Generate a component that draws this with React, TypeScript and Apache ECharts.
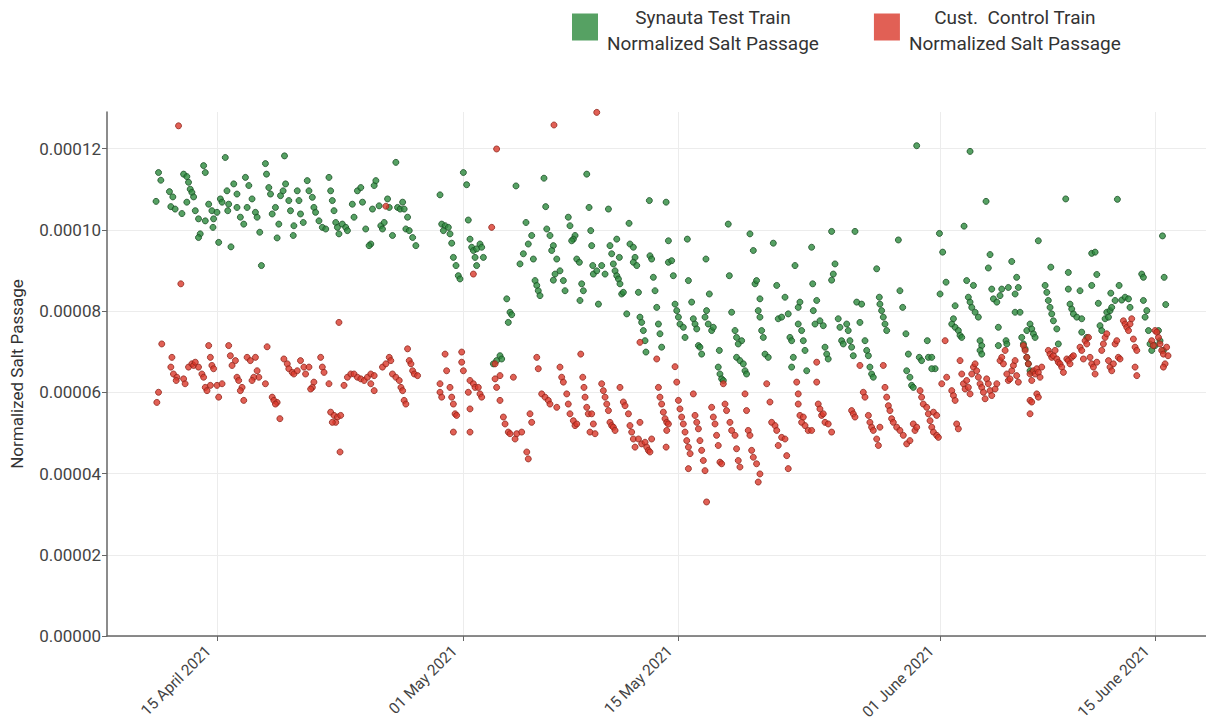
import React, { useEffect, useRef } from "react";
import * as echarts from "echarts";

// Each point: [day of April 2021 (decimal; 31 = 1 May, 62 = 1 June), salt passage x 1e-5]
const testPoints: [number, number][] = [
  [11.2,11.41],[11.35,11.22],[11.04,10.7],[11.91,10.94],[12.13,10.81],[12.0,10.57],[12.28,10.51],[12.72,10.4],[12.83,11.37],[13.04,11.31],
  [13.15,11.17],[13.26,11.0],[13.37,10.92],[13.48,10.81],[13.04,10.68],[14.13,11.58],[14.24,11.41],[13.59,10.47],[13.8,10.27],[14.24,10.22],
  [13.91,9.9],[13.8,9.81],[14.46,10.63],[14.67,10.47],[15.0,10.43],[14.78,10.27],[14.74,10.06],[15.11,9.69],[15.22,10.76],[15.33,10.68],
  [15.65,10.96],[15.76,10.63],[15.7,10.47],[15.91,9.58],[15.54,11.78],[16.09,11.13],[16.3,10.88],[16.3,10.55],[16.52,10.31],[16.74,10.14],
  [16.85,11.29],[17.07,11.09],[17.28,10.76],[16.96,10.55],[17.5,10.43],[17.61,10.31],[17.89,9.12],[17.78,9.94],[18.15,11.63],[18.22,11.37],
  [18.37,11.04],[18.48,10.88],[18.8,10.55],[18.59,10.39],[19.02,10.14],[18.91,9.8],[19.13,10.84],[19.3,10.96],[19.46,11.13],[19.67,10.72],
  [19.78,10.47],[20.0,10.1],[19.96,9.86],[19.39,11.82],[20.22,10.96],[20.33,10.72],[20.43,10.39],[20.61,10.18],[20.87,11.21],[20.98,10.96],
  [21.2,10.8],[21.3,10.55],[21.41,10.43],[21.63,10.22],[21.85,10.06],[22.07,10.02],[22.28,11.29],[22.39,10.96],[22.5,10.72],[22.61,10.47],
  [22.72,10.18],[22.83,10.06],[22.93,9.9],[23.15,10.14],[23.37,10.06],[23.48,9.98],[23.91,10.31],[23.8,10.63],[24.13,10.96],[24.35,11.04],
  [24.46,10.68],[24.67,10.02],[25.0,9.65],[24.89,9.61],[25.22,11.09],[25.33,11.21],[25.11,10.51],[25.54,10.59],[25.65,10.1],[25.76,10.02],
  [25.87,10.18],[26.09,10.76],[26.2,10.55],[26.41,9.86],[26.63,11.66],[26.74,10.55],[26.91,10.51],[27.07,10.68],[27.17,10.51],[27.39,10.31],
  [27.28,10.02],[27.5,9.98],[27.72,9.81],[27.93,9.61],
  [29.5,10.86],[31.02,11.41],[31.23,11.11],[31.34,10.24],[29.61,10.14],[29.83,10.1],[30.04,10.06],[29.72,9.98],[30.15,9.9],[30.26,9.67],
  [30.37,9.32],[30.54,9.12],[30.69,8.87],[30.8,8.79],[31.45,9.77],[31.56,9.57],[31.67,9.49],[31.88,9.53],[32.1,9.65],[32.21,9.57],
  [32.32,9.32],[31.78,9.32],[31.88,9.12],[33.84,8.3],[34.05,7.97],[34.16,7.91],[33.94,7.72],[33.4,6.9],[33.51,6.82],[33.18,6.78],
  [32.97,6.7],[34.44,11.08],[35.09,10.18],[35.46,9.86],[35.24,9.65],[34.92,9.41],[35.57,9.28],[34.7,9.16],[35.68,8.75],[35.79,8.63],
  [35.89,8.5],[36.0,8.38],[36.26,11.27],[36.37,10.57],[36.44,10.02],[36.65,9.86],[36.87,9.61],[36.76,9.49],[37.09,9.28],[36.98,8.91],
  [36.87,8.76],[37.3,8.99],[37.52,8.75],[37.63,8.5],[37.84,10.31],[37.95,10.1],[38.28,9.86],[38.17,9.77],[38.06,9.73],[38.39,9.28],
  [38.56,9.2],[38.71,8.67],[38.82,8.5],[38.6,8.26],[39.04,11.37],[39.19,10.55],[39.3,9.98],[39.36,9.61],[39.43,9.12],[39.47,8.91],
  [39.69,8.99],[40.01,9.12],[40.23,8.91],[39.8,8.17],[40.45,10.51],[40.55,9.61],[40.66,9.41],[40.77,9.16],[40.88,8.99],[40.99,8.87],
  [41.1,8.79],[41.2,8.67],[41.31,8.42],[41.42,8.46],[40.99,9.77],[41.16,9.32],[41.64,7.93],[41.79,10.16],[41.85,9.65],[42.07,9.57],
  [42.18,9.32],[42.07,9.2],[42.29,9.12],[42.4,8.46],[43.11,10.72],[44.2,10.68],[43.15,9.36],[43.26,9.28],[43.37,8.83],[43.48,8.5],
  [43.59,8.09],[43.7,7.68],[43.8,7.44],[43.91,7.11],[42.5,7.85],[42.61,7.72],[42.72,7.52],[42.83,7.27],[42.89,6.99],[44.35,9.73],
  [44.35,9.2],[44.56,9.24],[44.67,8.87],[44.78,8.17],[44.89,8.01],[45.0,7.85],[45.1,7.68],[45.32,7.6],[45.43,7.35],[45.58,9.77],
  [45.65,8.75],[45.86,8.22],[45.97,7.81],[46.08,7.68],[46.19,7.56],[46.3,7.15],
  [48.24,10.14],[49.65,9.9],[49.87,9.49],[51.17,9.67],[54.96,9.96],[56.48,9.96],[59.3,9.75],[60.49,12.07],[46.79,9.28],[48.31,8.87],
  [52.58,9.12],[53.66,9.57],[55.18,9.16],[55.07,8.91],[54.96,8.76],[57.89,9.04],[47.01,8.42],[46.83,8.01],[46.73,7.85],[46.94,7.68],
  [47.16,7.52],[47.27,7.6],[46.4,7.11],[46.51,6.94],[47.66,7.03],[47.59,6.62],[47.7,6.45],[47.81,6.33],[47.92,6.29],[48.46,7.97],
  [48.68,7.52],[48.78,7.35],[49.11,7.27],[48.89,7.19],[48.78,6.86],[49.0,6.78],[49.22,6.7],[49.33,6.53],[49.43,6.45],[49.98,8.67],
  [50.08,8.75],[50.3,8.3],[50.19,8.01],[50.3,7.85],[50.41,7.52],[50.52,7.35],[50.63,6.94],[50.84,6.86],[51.39,8.63],[51.49,7.81],
  [51.71,7.85],[51.93,8.34],[52.14,7.93],[52.25,7.35],[52.36,7.27],[52.47,6.86],[52.36,6.62],[52.79,8.09],[52.9,8.22],[52.79,7.68],
  [53.01,7.52],[53.12,7.27],[53.23,7.03],[53.34,6.53],[53.73,8.67],[53.77,8.01],[53.88,7.68],[53.99,8.26],[54.2,7.76],[54.42,7.64],
  [54.53,7.11],[54.64,6.94],[54.74,6.82],[55.39,7.81],[55.5,7.6],[55.61,7.27],[55.72,7.19],[55.94,7.68],[56.04,7.52],[56.15,7.27],
  [56.26,7.11],[56.37,6.9],[56.59,8.22],[56.91,8.17],[56.8,7.72],[57.13,7.27],[57.24,7.03],[57.35,6.9],[57.45,6.62],[57.56,6.45],
  [57.67,6.37],[58.06,8.34],[58.1,8.17],[58.21,8.01],[58.32,7.85],[58.43,7.68],[58.54,7.52],[59.4,8.5],[59.58,8.09],[59.79,7.44],
  [59.95,6.94],[59.84,6.53],[60.05,6.37],[60.16,6.17],[60.27,6.12],[60.66,6.86],[60.81,6.78],[61.18,7.27],[61.25,6.86],
  [63.96,11.93],[65.0,10.7],[70.18,10.76],[73.54,10.75],[63.57,10.09],[61.97,9.91],[62.18,9.45],[68.4,9.73],[76.47,9.85],[65.26,9.39],
  [65.15,9.06],[66.67,9.22],[66.99,8.83],[67.1,8.58],[66.89,8.42],[66.45,8.58],[66.89,7.97],[67.21,7.97],[69.21,9.08],[70.35,8.95],
  [71.87,9.42],[72.09,9.45],[72.2,8.9],[71.87,8.63],[73.11,8.44],[73.65,8.63],[75.12,8.91],[75.23,8.83],[76.58,8.83],[76.68,8.16],
  [62.4,8.71],[62.01,8.42],[63.74,8.75],[64.18,8.63],[63.85,8.34],[63.96,8.22],[64.07,8.09],[64.29,7.97],[64.5,7.85],[62.99,8.13],
  [62.88,7.81],[62.77,7.68],[62.99,7.6],[63.2,7.52],[63.31,7.4],[63.42,7.35],[65.37,8.54],[65.48,8.3],[65.7,8.22],[65.91,8.38],
  [66.02,8.54],[65.8,7.6],[65.8,7.15],[66.3,7.27],[66.35,7.19],[64.61,7.27],[64.72,7.15],[64.61,7.03],[64.72,6.94],[67.65,7.52],
  [67.86,7.68],[67.97,7.56],[68.08,7.44],[68.19,7.35],[67.32,7.35],[67.43,7.19],[67.54,7.07],[67.65,6.86],[67.75,6.7],[67.86,6.53],
  [67.97,6.49],[68.84,8.63],[68.95,8.46],[69.05,8.26],[69.16,8.09],[69.27,7.93],[69.38,7.76],[69.6,7.56],[69.7,7.19],[70.35,8.54],
  [70.46,8.17],[70.57,8.05],[70.68,7.93],[70.9,7.85],[71.11,8.5],[71.22,7.81],[71.22,7.48],[71.55,7.35],[72.3,8.19],[72.41,7.64],
  [72.52,7.52],[72.74,7.81],[72.85,7.97],[72.96,7.85],[73.06,8.01],[73.17,8.09],[73.39,8.26],[73.82,8.27],[74.04,8.34],[74.26,8.3],
  [74.36,8.09],[75.23,8.26],[75.45,8.01],[75.56,7.52],[75.34,7.85],[75.66,7.19],[75.77,7.03],[75.99,7.15],[76.21,7.52],[76.31,7.27],
  [76.53,7.03],[61.47,6.86],[61.69,6.58],[61.47,6.58],
];

const controlPoints: [number, number][] = [
  [12.5,12.56],[12.65,8.67],[22.93,7.72],[11.41,7.19],[11.2,6.0],[11.09,5.75],[12.07,6.86],[12.0,6.62],[12.17,6.45],[12.39,6.37],
  [12.35,6.29],[12.83,6.33],[12.93,6.21],[13.15,6.62],[13.37,6.7],[13.48,6.66],[13.59,6.74],[13.8,6.62],[14.02,6.45],[14.13,6.37],
  [14.24,6.12],[14.35,6.04],[14.57,6.17],[14.46,7.15],[14.57,6.86],[14.67,6.66],[14.78,6.58],[15.0,6.17],[15.33,6.21],[15.11,5.88],
  [15.76,7.15],[15.87,6.9],[15.98,6.66],[16.2,6.78],[16.3,6.37],[16.41,6.29],[16.63,6.12],[16.52,6.04],[16.74,5.8],[16.96,6.86],
  [17.17,6.78],[17.5,6.86],[17.61,6.53],[17.72,6.37],[17.39,6.37],[17.28,6.29],[18.26,7.12],[18.15,6.21],[18.59,5.88],[18.7,5.8],
  [18.91,5.75],[18.8,5.71],[19.09,5.35],[19.35,6.82],[19.57,6.7],[19.67,6.58],[19.89,6.49],[20.0,6.45],[20.22,6.53],[20.43,6.78],
  [20.65,6.62],[20.76,6.45],[20.98,6.62],[21.3,6.25],[21.2,6.12],[21.09,6.08],[21.74,6.86],[21.85,6.62],[21.96,6.49],[22.28,6.21],
  [22.39,5.51],[22.61,5.43],[22.83,5.39],[23.04,5.43],[22.72,5.26],[22.5,5.26],[23.0,4.53],[23.26,6.17],[23.48,6.37],[23.7,6.45],
  [23.91,6.45],[24.13,6.37],[24.35,6.33],[24.57,6.29],[24.78,6.37],[25.0,6.21],[25.22,6.04],[25.0,6.45],[25.22,6.41],[25.76,6.62],
  [25.98,6.7],[26.2,6.86],[26.3,6.78],[26.41,6.45],[26.63,6.37],[26.85,6.29],[26.96,6.12],[27.07,6.04],[27.17,5.8],[27.28,5.71],
  [27.39,7.07],[27.5,6.78],[27.61,6.7],[27.72,6.53],[27.83,6.45],[28.04,6.41],[25.98,10.58],
  [33.18,11.99],[36.91,12.58],[39.69,12.89],[32.86,10.06],[31.67,8.91],[29.83,6.94],[30.91,6.99],[29.93,6.53],[30.91,6.74],[31.02,6.53],
  [29.5,6.21],[29.5,6.0],[29.61,5.88],[30.15,6.12],[30.26,5.88],[30.37,5.71],[30.48,5.47],[30.58,5.43],[30.37,5.02],[31.45,5.02],
  [31.45,5.59],[31.45,6.29],[31.67,6.21],[31.78,6.12],[31.99,6.12],[32.1,5.96],[32.21,5.88],[31.34,6.0],[33.08,6.7],[33.4,6.41],
  [33.08,6.33],[33.18,6.12],[33.4,5.8],[33.62,5.39],[33.73,5.22],[33.94,5.02],[34.05,4.98],[34.38,4.85],[34.49,4.98],[34.81,5.02],
  [35.35,5.47],[35.46,5.26],[35.14,4.53],[35.24,4.36],[34.27,6.37],[35.79,6.86],[35.89,6.58],[36.11,5.96],[36.33,5.88],[36.54,5.8],
  [36.65,5.71],[37.09,5.63],[37.3,6.62],[37.41,6.37],[37.52,6.25],[37.74,5.96],[37.84,5.71],[37.95,5.47],[38.17,5.3],[38.28,5.18],
  [38.39,5.22],[38.65,6.94],[38.78,6.37],[38.86,6.12],[38.93,5.88],[39.04,5.63],[39.14,5.47],[39.36,5.47],[39.47,5.22],[39.25,5.02],
  [39.58,4.98],[40.01,6.21],[40.12,6.04],[40.23,5.88],[40.34,5.71],[40.45,5.55],[40.55,5.26],[40.66,5.18],[40.77,5.14],[40.88,5.06],
  [41.2,6.12],[41.42,5.76],[41.53,5.67],[41.75,5.47],[41.85,5.18],[41.96,5.02],[42.07,4.85],[42.18,4.65],[42.4,4.85],[42.61,4.73],
  [42.83,4.77],[42.94,4.65],[43.05,4.57],[43.15,4.53],[43.26,4.85],[42.5,5.26],[42.5,7.23],[43.59,6.82],[43.7,6.12],[43.8,5.88],
  [43.91,5.71],[44.02,5.51],[44.13,5.35],[44.24,5.26],[44.35,5.22],[44.24,5.06],[44.2,4.65],[44.78,6.63],[44.89,6.25],[45.0,5.8],
  [45.1,5.59],[45.21,5.39],[45.32,5.22],[45.43,5.02],[45.54,4.81],[45.65,4.65],[45.76,4.49],[45.65,4.12],[45.97,5.96],[46.08,5.43],
  [46.19,5.26],[46.3,5.1],
  [47.92,6.21],[46.4,4.81],[46.51,4.57],[46.62,4.32],[46.73,4.07],[46.83,3.3],[47.16,5.63],[47.27,5.39],[47.38,5.22],[47.48,4.94],
  [47.59,4.69],[47.7,4.28],[47.81,4.24],[48.03,5.71],[48.13,5.55],[48.35,5.26],[48.46,5.06],[48.68,4.94],[48.78,4.61],[48.89,4.32],
  [49.0,4.16],[49.33,5.96],[49.43,5.55],[49.54,5.06],[49.65,4.94],[49.76,4.57],[49.87,4.4],[50.08,4.24],[50.3,3.99],[50.19,3.79],
  [50.74,6.21],[50.95,5.76],[51.06,5.26],[51.28,5.18],[51.39,5.06],[51.49,4.69],[51.71,4.89],[51.93,4.85],[52.04,4.44],[52.14,4.12],
  [52.69,6.25],[52.79,5.96],[52.79,5.71],[52.9,5.43],[53.01,5.26],[53.12,5.39],[53.23,5.18],[53.44,5.06],[53.66,5.06],[53.99,6.74],
  [53.99,6.25],[54.09,5.71],[54.2,5.59],[54.31,5.43],[54.42,5.47],[54.53,5.26],[54.74,5.22],[54.96,5.02],[56.26,5.55],[56.37,5.47],
  [56.48,5.39],[56.8,6.66],[57.02,6.0],[57.13,5.88],[57.35,5.43],[57.45,5.26],[57.56,5.14],[57.67,5.06],[57.89,4.85],[58.0,4.69],
  [58.1,5.14],[58.32,6.66],[58.43,6.12],[58.54,5.88],[58.65,5.67],[58.75,5.55],[58.86,5.35],[58.97,5.26],[59.19,5.14],[59.4,5.06],
  [59.62,4.94],[59.84,4.73],[60.05,4.81],[60.27,5.22],[60.38,5.06],[60.49,5.14],[60.71,6.04],[60.81,5.88],[60.92,5.71],[61.14,5.63],
  [61.25,5.47],
  [61.36,5.3],[61.47,5.14],[61.58,5.02],[61.79,4.94],[61.9,4.89],[61.58,5.51],[61.79,5.43],[62.12,6.21],[62.34,7.27],[62.44,6.37],
  [62.77,6.04],[62.88,5.92],[62.99,5.8],[63.09,5.22],[63.2,5.1],[63.31,6.78],[63.42,6.45],[63.53,6.21],[63.64,6.08],[63.74,6.29],
  [63.85,6.12],[63.96,5.96],[64.07,6.45],[64.18,6.62],[64.29,6.7],[64.39,6.53],[64.5,6.37],[64.61,6.21],[64.72,6.12],[64.83,6.0],
  [64.94,5.84],[65.04,6.33],[65.15,6.21],[65.26,6.04],[65.37,5.92],[65.59,6.08],[65.7,6.21],[65.91,6.78],[66.02,6.86],[66.13,6.7],
  [66.24,7.03],[66.35,6.45],[66.45,6.29],[66.56,6.33],[66.67,6.53],[66.78,6.66],[66.89,6.78],[66.99,6.41],[67.1,6.25],[67.43,7.15],
  [67.54,7.03],[67.65,6.86],[67.75,6.7],[67.86,6.45],[67.97,6.29],[68.08,6.53],[68.19,6.45],[68.3,6.58],[68.4,6.49],[68.51,6.37],
  [68.62,6.62],[67.86,5.8],[67.97,5.76],[67.86,5.47],[68.3,5.96],[68.4,5.88],[69.05,7.03],[69.16,6.94],[69.27,6.86],[69.38,6.9],
  [69.49,7.03],[69.6,6.82],[69.7,6.74],[69.81,6.7],[69.92,6.62],[70.03,6.49],[70.25,6.82],[70.35,6.78],[70.46,6.7],[70.57,6.86],
  [70.68,6.9],[71.11,7.11],[71.22,7.03],[71.33,6.82],[71.44,7.27],[71.55,7.19],[71.66,7.35],[71.76,6.86],[71.87,6.7],[71.98,6.62],
  [72.09,6.45],[72.2,6.74],[72.52,7.03],[72.63,7.19],[72.74,7.35],[72.85,7.44],[72.96,6.78],[73.06,6.62],[73.17,6.53],[73.28,6.7],
  [73.39,7.19],[73.5,7.27],[73.6,6.86],[73.71,6.82],[73.93,7.76],[74.04,7.68],[74.15,7.6],[74.26,7.52],[74.36,7.68],[74.47,7.81],
  [74.58,7.31],[74.69,7.11],[74.8,7.03],[74.69,6.62],[74.8,6.41],[75.77,7.27],[75.88,7.15],[75.99,7.52],[76.1,7.48],[76.21,7.35],
  [76.31,7.19],[76.42,7.03],[76.53,6.94],[76.64,6.7],[76.53,6.62],[76.74,7.11],[76.83,6.9],
];

const tickDates: [number, number, number][] = [[2021, 3, 15], [2021, 4, 1], [2021, 4, 15], [2021, 5, 1], [2021, 5, 15]];
const yTicks = [0, 0.00002, 0.00004, 0.00006, 0.00008, 0.0001, 0.00012];
const monthNames = ["January", "February", "March", "April", "May", "June", "July", "August", "September", "October", "November", "December"];
const seriesNames = ["Synauta Test Train\nNormalized Salt Passage", "Cust.  Control Train\nNormalized Salt Passage"];
const xStartDay = 7.85;
const xEndDay = 79.3;
const yMax = 0.000129;

const DAY = 86400000;
const APRIL_1 = new Date(2021, 3, 1).getTime();
const toTime = (d: number) => APRIL_1 + (d - 1) * DAY;
const toPoint = (p: [number, number]) => [toTime(p[0]), p[1] * 1e-5];

export default function App() {
  const ref = useRef<HTMLDivElement>(null);
  useEffect(() => {
    if (!ref.current) return;
    const chart = echarts.init(ref.current, undefined, { renderer: "svg" });
    const font = "Roboto";
    const tickTimes = tickDates.map(([y, m, d]) => new Date(y, m, d).getTime());
    chart.setOption({
      animation: false,
      backgroundColor: "#ffffff",
      textStyle: { fontFamily: font },
      legend: {
        left: 572,
        top: 8,
        padding: 0,
        itemWidth: 26,
        itemHeight: 27,
        itemGap: 55,
        icon: "rect",
        itemStyle: { borderWidth: 0 },
        formatter: (name: string) =>
          name.split("\n").map((l) => `{c|${l}}`).join("\n"),
        textStyle: {
          fontFamily: font,
          fontSize: 19,
          color: "#333",
          padding: [7, 0, 0, 4],
          rich: { c: { align: "center", fontSize: 19, lineHeight: 26, color: "#333", fontFamily: font } },
        },
      },
      grid: { left: 107, right: 0, top: 112, bottom: 90, outerBoundsMode: "none" },
      xAxis: {
        type: "value",
        min: toTime(xStartDay),
        max: toTime(xEndDay),
        axisLine: { show: true, onZero: false, lineStyle: { color: "#666", width: 1.5 } },
        axisTick: { show: true, length: 5, customValues: tickTimes, lineStyle: { color: "#666" } },
        splitLine: { show: true, lineStyle: { color: "#ececec" } },
        axisLabel: {
          customValues: tickTimes,
          rotate: 45,
          margin: 4,
          padding: [0, 12, 0, 0],
          fontSize: 15.5,
          color: "#444",
          fontFamily: font,
          formatter: (v: number) => {
            const d = new Date(v);
            return `${String(d.getDate()).padStart(2, "0")} ${monthNames[d.getMonth()]} ${d.getFullYear()}`;
          },
        },
      },
      yAxis: {
        type: "value",
        min: 0,
        max: yMax,
        name: "Normalized Salt Passage",
        nameLocation: "middle",
        nameGap: 82,
        nameTextStyle: { fontSize: 17, color: "#333", fontFamily: font },
        axisLine: { show: true, lineStyle: { color: "#666", width: 1.5 } },
        axisTick: { show: true, length: 5, customValues: yTicks, lineStyle: { color: "#666" } },
        splitLine: { show: true, lineStyle: { color: "#ececec" } },
        axisLabel: {
          customValues: yTicks,
          fontSize: 17,
          margin: 6,
          color: "#444",
          fontFamily: font,
          formatter: (v: number) => v.toFixed(5),
        },
      },
      series: [
        {
          name: seriesNames[0],
          type: "scatter",
          symbolSize: 6,
          itemStyle: { color: "#2c8a3c", borderColor: "#1a4f25", borderWidth: 1 },
          data: testPoints.map(toPoint),
        },
        {
          name: seriesNames[1],
          type: "scatter",
          symbolSize: 6,
          itemStyle: { color: "#d9382a", borderColor: "#8f261c", borderWidth: 1 },
          data: controlPoints.map(toPoint),
        },
      ],
    });
    return () => chart.dispose();
  }, []);
  return (
    <div
      ref={ref}
      style={{ position: "fixed", left: 0, top: 0, width: 1206, height: 726 }}
    />
  );
}
